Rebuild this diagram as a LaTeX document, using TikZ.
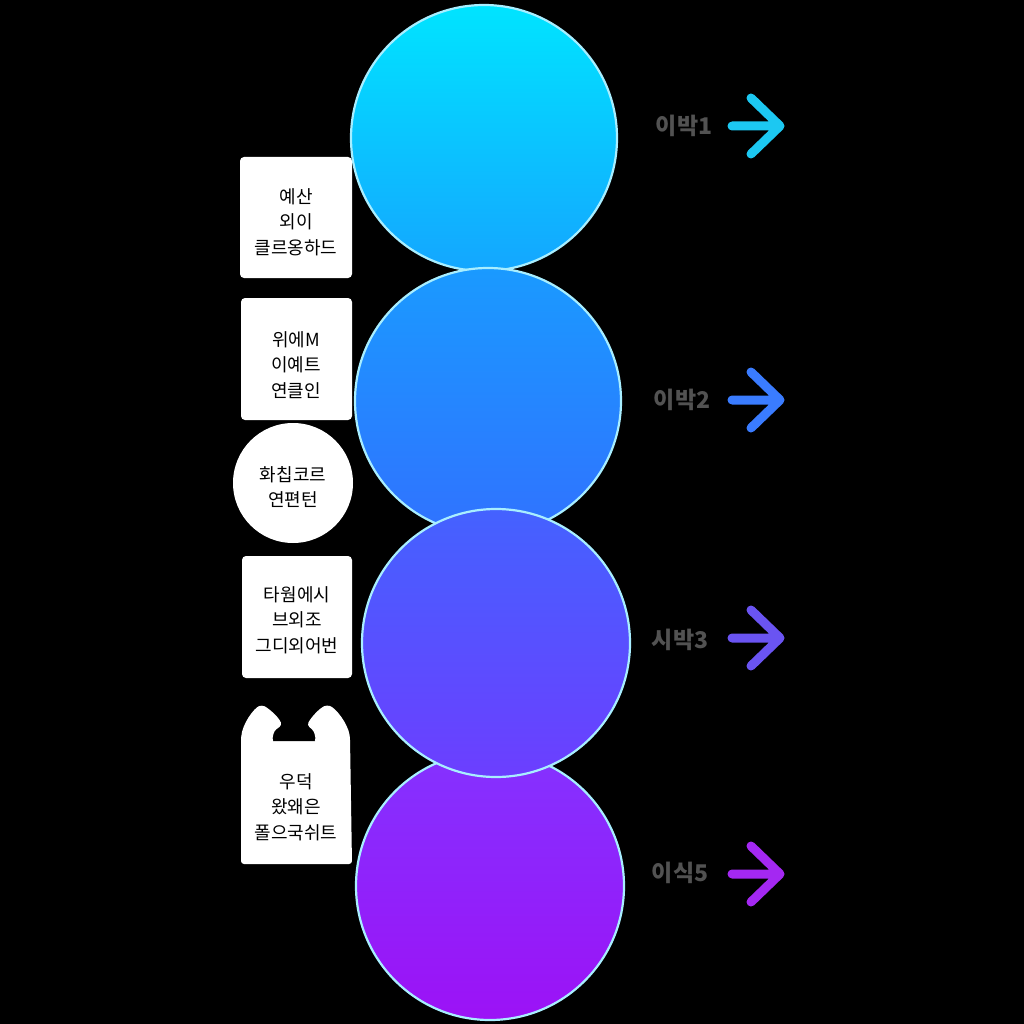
\documentclass[tikz,border=0pt]{standalone}
\usepackage{fontspec}
\newfontfamily\kr{Noto Sans CJK KR}
\definecolor{cA1}{HTML}{00E4FF}
\definecolor{cA2}{HTML}{14A6FF}
\definecolor{cB1}{HTML}{1A9AFF}
\definecolor{cB2}{HTML}{3072FF}
\definecolor{cC1}{HTML}{4462FF}
\definecolor{cC2}{HTML}{6C3EFF}
\definecolor{cD1}{HTML}{8432FF}
\definecolor{cD2}{HTML}{9C12F6}
\definecolor{rimc}{HTML}{A8EEFF}
\definecolor{labgray}{HTML}{525252}
\definecolor{ar1}{HTML}{1CC8F2}
\definecolor{ar2}{HTML}{3A7CFF}
\definecolor{ar3}{HTML}{6A54F2}
\definecolor{ar4}{HTML}{A428F2}
\begin{document}
\begin{tikzpicture}[x=1pt,y=-1pt,
  bigball/.style={circle, minimum size=#1, inner sep=0pt, draw=rimc, line width=2.2pt},
  card/.style={fill=white, rounded corners=4pt},
  cardtext/.style={font=\kr\fontsize{18}{25.5}\selectfont, align=center, text=black},
  steplabel/.style={font=\kr\bfseries\fontsize{23}{26}\selectfont, text=labgray},
  chev/.style={line width=9pt, line cap=round, line join=round}
]
\useasboundingbox (0,0) rectangle (1024,1024);
\fill[black] (0,0) rectangle (1024,1024);

% big circles
\node[bigball=268pt, top color=cD1, bottom color=cD2] (b4) at (490,886) {};
\node[bigball=266pt, top color=cA1, bottom color=cA2] (b1) at (484,138) {};
\node[bigball=266pt, top color=cB1, bottom color=cB2] (b2) at (488,401) {};
\node[bigball=268pt, top color=cC1, bottom color=cC2] (b3) at (496,643) {};

% left cards
\fill[card] (240,157) rectangle (352,278);
\node[cardtext] (t1) at (296,222) {예산\\외이\\클르옹하드};

\fill[card] (241,298) rectangle (352,420);
\node[cardtext] (t2) at (296,365) {위에M\\이예트\\연클인};

\fill[white] (293,483) circle (60);
\node[cardtext] (t3) at (293,487) {화칩코르\\연편턴};

\fill[card] (242,556) rectangle (352,678);
\node[cardtext] (t4) at (297,620) {타웜에시\\브외조\\그디외어번};

\fill[white, rounded corners=3pt] (241,864) -- (241,740)
  .. controls (242,724) and (254,708) .. (262,705)
  .. controls (268,708) and (278,716) .. (282,725)
  -- (274,731) -- (272,741) -- (316,741) -- (314,731) -- (307,725)
  .. controls (312,716) and (320,708) .. (327,705)
  .. controls (336,708) and (348,724) .. (350,738)
  -- (352,864) -- cycle;
\fill[black] (273,741) .. controls (276,729) and (312,729) .. (315,741) -- cycle;
\node[cardtext] (t5) at (296,807) {우덕\\왔왜은\\폴으국쉬트};

% step labels
\node[steplabel] (l1) at (684,126) {이박1};
\node[steplabel] (l2) at (682,400) {이박2};
\node[steplabel] (l3) at (680,640) {시박3};
\node[steplabel] (l4) at (680,873) {이식5};

% arrows
\coordinate (a1s) at (732,126); \coordinate (a1e) at (780,126);
\draw[chev, ar1] (a1s) -- (a1e) (751,98) -- (a1e) -- (751,154);
\coordinate (a2s) at (732,400); \coordinate (a2e) at (780,400);
\draw[chev, ar2] (a2s) -- (a2e) (751,372) -- (a2e) -- (751,428);
\coordinate (a3s) at (732,638); \coordinate (a3e) at (780,638);
\draw[chev, ar3] (a3s) -- (a3e) (751,610) -- (a3e) -- (751,666);
\coordinate (a4s) at (732,874); \coordinate (a4e) at (780,874);
\draw[chev, ar4] (a4s) -- (a4e) (751,846) -- (a4e) -- (751,902);
\end{tikzpicture}
\end{document}
